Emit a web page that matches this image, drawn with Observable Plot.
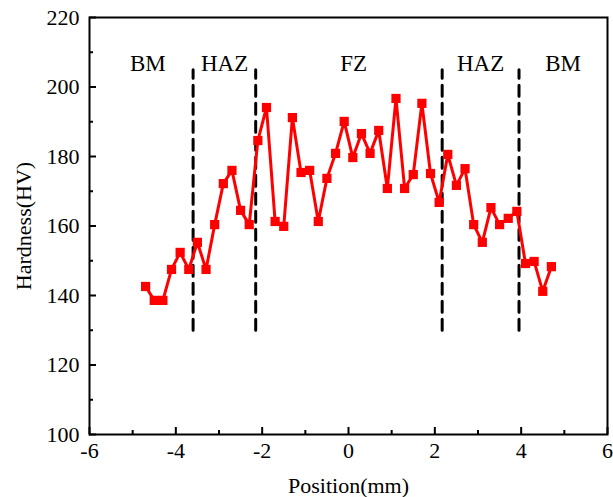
<!DOCTYPE html>
<html>
<head>
<meta charset="utf-8">
<script src="https://cdn.jsdelivr.net/npm/d3@7"></script>
<script src="https://cdn.jsdelivr.net/npm/@observablehq/plot@0.6"></script>
<style>
  html, body { margin: 0; padding: 0; background: #fff; }
  svg { display: block; }
</style>
</head>
<body>
<div id="chart"></div>
<script>
const positions = [-4.7, -4.5, -4.3, -4.1, -3.9, -3.7, -3.5, -3.3, -3.1, -2.9,
  -2.7, -2.5, -2.3, -2.1, -1.9, -1.7, -1.5, -1.3, -1.1, -0.9,
  -0.7, -0.5, -0.3, -0.1, 0.1, 0.3, 0.5, 0.7, 0.9, 1.1,
  1.3, 1.5, 1.7, 1.9, 2.1, 2.3, 2.5, 2.7, 2.9, 3.1,
  3.3, 3.5, 3.7, 3.9, 4.1, 4.3, 4.5, 4.7];
const hardness = [142.6, 138.6, 138.6, 147.5, 152.4, 147.5, 155.3, 147.5, 160.4, 172.2,
  176.0, 164.5, 160.4, 184.6, 194.1, 161.3, 159.9, 191.2, 175.4, 176.0,
  161.3, 173.7, 180.9, 190.1, 179.7, 186.6, 180.9, 187.5, 170.8, 196.7,
  170.8, 174.8, 195.3, 175.1, 166.8, 180.6, 171.7, 176.5, 160.4, 155.3,
  165.3, 160.4, 162.2, 164.2, 149.2, 149.8, 141.2, 148.3];
const boundaries = [-3.6, -2.15, 2.17, 3.95];
const boundaryRange = [130, 205];
const zoneNames = ["BM", "HAZ", "FZ", "HAZ", "BM"];
const zoneCenters = [-4.65, -2.87, 0.12, 3.06, 4.97];
const zoneLabelY = 206.8;
const xTicks = [-6, -4, -2, 0, 2, 4, 6];
const xMinor = [-5, -3, -1, 1, 3, 5];
const yTicks = [100, 120, 140, 160, 180, 200, 220];
const yMinor = [110, 130, 150, 170, 190, 210];

const data = positions.map((x, i) => ({x, y: hardness[i]}));
const dividers = boundaries.flatMap((b, i) => [
  {x: b, y: boundaryRange[0], id: i}, {x: b, y: boundaryRange[1], id: i}
]);
const zones = zoneNames.map((name, i) => ({name, x: zoneCenters[i], y: zoneLabelY}));

const font = "'Liberation Serif', 'Times New Roman', serif";

const chart = Plot.plot({
  width: 613,
  height: 497,
  marginLeft: 89,
  marginRight: 6,
  marginTop: 17,
  marginBottom: 63,
  style: {fontFamily: font, fontSize: "22px", color: "#000", background: "#fff"},
  x: {domain: [-6, 6]},
  y: {domain: [100, 220]},
  marks: [
    Plot.axisX({ticks: xTicks, tickSize: 0, tickPadding: 8, tickFormat: d => String(d), fontSize: 22,
      label: "Position(mm)", labelAnchor: "center", labelOffset: 58, labelArrow: "none"}),
    Plot.axisX({ticks: xTicks, tickSize: -7, text: null, strokeWidth: 2, label: null}),
    Plot.axisX({ticks: xMinor, tickSize: -4, text: null, strokeWidth: 2, label: null}),
    Plot.axisY({ticks: yTicks, tickSize: 0, tickPadding: 10, fontSize: 22,
      label: "Hardness(HV)", labelAnchor: "center", labelOffset: 74, labelArrow: "none"}),
    Plot.axisY({ticks: yTicks, tickSize: -7, text: null, strokeWidth: 2, label: null}),
    Plot.axisY({ticks: yMinor, tickSize: -4, text: null, strokeWidth: 2, label: null}),
    Plot.frame({stroke: "#000", strokeWidth: 2}),
    Plot.line(dividers, {x: "x", y: "y", z: "id", stroke: "#000", strokeWidth: 3, strokeDasharray: "11,7"}),
    Plot.text(zones, {x: "x", y: "y", text: "name", fontSize: 23, fill: "#000"}),
    Plot.line(data, {x: "x", y: "y", stroke: "#ff0000", strokeWidth: 3}),
    Plot.dot(data, {x: "x", y: "y", symbol: "square", r: 5.2, fill: "#ff0000", stroke: "none"})
  ]
});
document.getElementById("chart").appendChild(chart);
</script>
</body>
</html>
